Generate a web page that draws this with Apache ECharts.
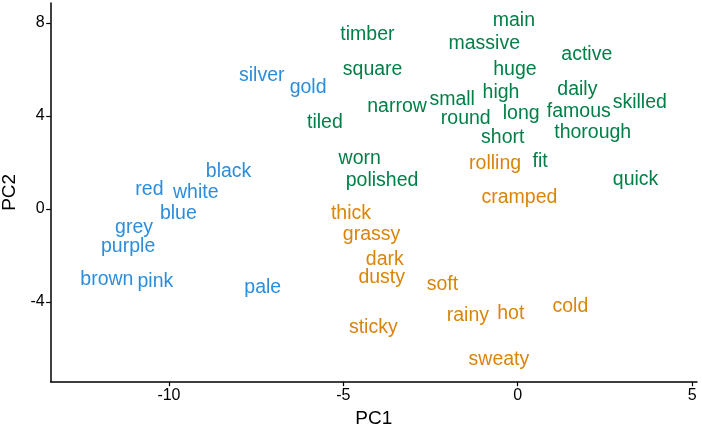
<!DOCTYPE html>
<html>
<head>
<meta charset="utf-8">
<script src="https://cdn.jsdelivr.net/npm/echarts@6/dist/echarts.min.js"></script>
<style>
  html, body { margin: 0; padding: 0; background: #fff; }
  #main { width: 702px; height: 430px; }
</style>
</head>
<body>
<div id="main"></div>
<script>
// words and their PC1 / PC2 scores, one list per group
var blueWords = ['silver', 'gold', 'black', 'red', 'white', 'blue', 'grey', 'purple', 'brown', 'pink', 'pale'];
var blueX = [-7.34, -6.01, -8.29, -10.56, -9.23, -9.73, -11.00, -11.17, -11.78, -10.39, -7.31];
var blueY = [5.72, 5.23, 1.61, 0.82, 0.72, -0.22, -0.80, -1.62, -3.02, -3.12, -3.38];

var greenWords = ['timber', 'main', 'massive', 'active', 'square', 'huge', 'daily', 'high', 'small', 'skilled',
  'narrow', 'famous', 'long', 'round', 'tiled', 'thorough', 'short', 'worn', 'fit', 'polished', 'quick'];
var greenX = [-4.31, -0.11, -0.96, 1.98, -4.16, -0.08, 1.71, -0.48, -1.88, 3.50,
  -3.46, 1.75, 0.10, -1.49, -5.53, 2.15, -0.43, -4.53, 0.64, -3.89, 3.38];
var greenY = [7.48, 8.10, 7.10, 6.62, 6.01, 5.98, 5.12, 5.02, 4.69, 4.58,
  4.40, 4.19, 4.09, 3.90, 3.72, 3.29, 3.07, 2.18, 2.04, 1.22, 1.25];

var orangeWords = ['rolling', 'cramped', 'thick', 'grassy', 'dark', 'dusty', 'soft', 'cold', 'rainy', 'hot', 'sticky', 'sweaty'];
var orangeX = [-0.65, 0.05, -4.78, -4.19, -3.81, -3.90, -2.16, 1.51, -1.43, -0.20, -4.14, -0.54];
var orangeY = [1.97, 0.50, -0.22, -1.12, -2.19, -2.95, -3.27, -4.20, -4.60, -4.49, -5.09, -6.49];

var xTicks = [-10, -5, 0, 5];
var yTicks = [-4, 0, 4, 8];

function makeSeries(words, xs, ys, color) {
  var pts = [];
  for (var i = 0; i < words.length; i++) {
    pts.push([xs[i], ys[i], words[i]]);
  }
  return {
    type: 'scatter',
    data: pts,
    symbolSize: 0,
    silent: true,
    label: {
      show: true,
      position: 'inside',
      formatter: function (p) { return p.data[2]; },
      color: color,
      textBorderWidth: 0,
      opacity: 1,
      fontFamily: 'Liberation Sans, Arial, sans-serif',
      fontSize: 19.5
    }
  };
}

var myChart = echarts.init(document.getElementById('main'));

var axisFont = { color: '#000', fontFamily: 'Liberation Sans, Arial, sans-serif', fontSize: 16 };

var option = {
  animation: false,
  grid: { left: 50.7, right: 5, top: 3, bottom: 48.3, outerBoundsMode: 'none', containLabel: false },
  xAxis: {
    type: 'value',
    min: -13.39,
    max: 5.14,
    name: 'PC1',
    nameLocation: 'middle',
    nameGap: 28,
    nameTextStyle: { color: '#000', fontFamily: 'Liberation Sans, Arial, sans-serif', fontSize: 19 },
    splitLine: { show: false },
    axisLine: { show: true, onZero: false, lineStyle: { color: '#000', width: 1.5 } },
    axisTick: { show: true, length: 4.5, customValues: xTicks, lineStyle: { color: '#000', width: 1.2 } },
    axisLabel: Object.assign({ customValues: xTicks, margin: 6 }, axisFont)
  },
  yAxis: {
    type: 'value',
    min: -7.43,
    max: 8.86,
    name: 'PC2',
    nameLocation: 'middle',
    nameGap: 30,
    nameTextStyle: { color: '#000', fontFamily: 'Liberation Sans, Arial, sans-serif', fontSize: 19 },
    splitLine: { show: false },
    axisLine: { show: true, onZero: false, lineStyle: { color: '#000', width: 1.5 } },
    axisTick: { show: true, length: 4.5, customValues: yTicks, lineStyle: { color: '#000', width: 1.2 } },
    axisLabel: Object.assign({ customValues: yTicks, margin: 6 }, axisFont)
  },
  series: [
    makeSeries(blueWords, blueX, blueY, '#2b8ddd'),
    makeSeries(greenWords, greenX, greenY, '#007f47'),
    makeSeries(orangeWords, orangeX, orangeY, '#db8408')
  ]
};

myChart.setOption(option);
</script>
</body>
</html>
